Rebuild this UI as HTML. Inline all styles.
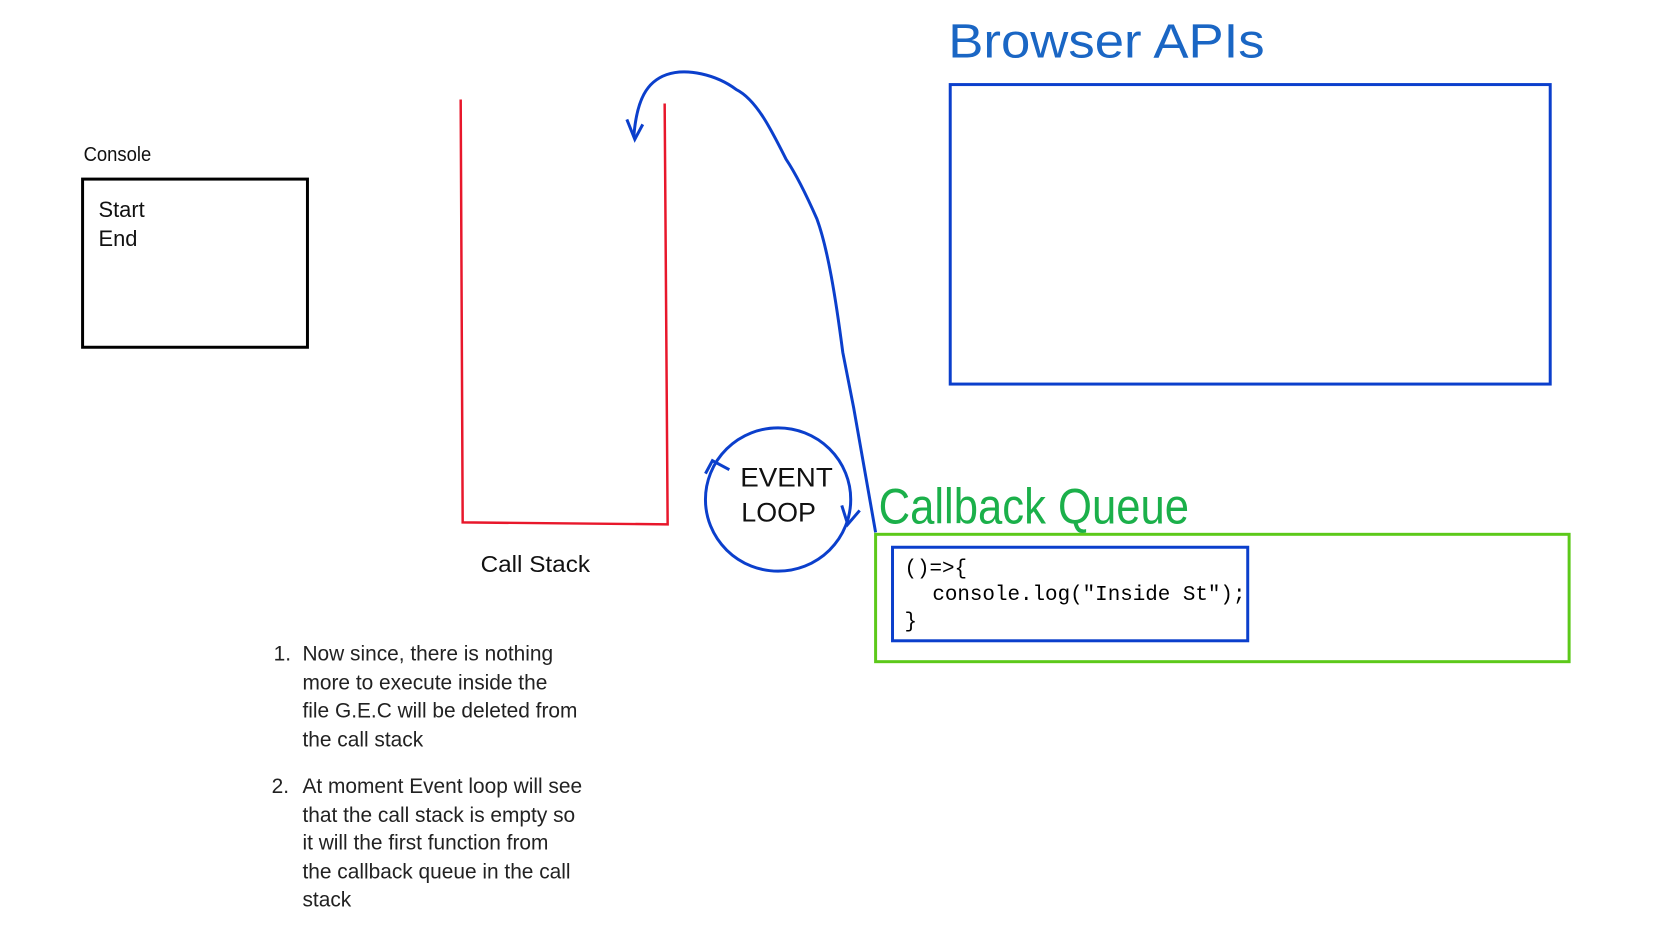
<!DOCTYPE html>
<html><head><meta charset="utf-8"><style>
html,body{margin:0;padding:0;background:#fff;}
svg{display:block;}
text{font-family:"Liberation Sans",sans-serif;}
</style></head><body>
<svg width="1674" height="930" viewBox="0 0 1674 930" xmlns="http://www.w3.org/2000/svg">
<rect width="1674" height="930" fill="#fff"/>
<g transform="scale(0.995)">
<!-- Browser APIs -->
<text x="953" y="58" font-size="48" fill="#1a66c4" textLength="318" lengthAdjust="spacingAndGlyphs">Browser APIs</text>
<rect x="955" y="85" width="603" height="301" fill="none" stroke="#0b3fcc" stroke-width="3"/>
<!-- Console -->
<text x="84" y="162" font-size="20" fill="#111" textLength="68" lengthAdjust="spacingAndGlyphs">Console</text>
<rect x="83" y="180" width="226" height="169" fill="none" stroke="#000" stroke-width="3"/>
<text x="99" y="218" font-size="22" fill="#111">Start</text>
<text x="99" y="247" font-size="22" fill="#111">End</text>
<!-- Call stack -->
<polyline points="463,100 465,525 671,527 668,104" fill="none" stroke="#e8172b" stroke-width="2.5"/>
<text x="483" y="575" font-size="23" fill="#111" textLength="110" lengthAdjust="spacingAndGlyphs">Call Stack</text>
<!-- Event loop -->
<ellipse cx="782" cy="502" rx="73" ry="72" fill="none" stroke="#0b3fcc" stroke-width="3"/>
<text x="744" y="489" font-size="27" fill="#111" textLength="93" lengthAdjust="spacingAndGlyphs">EVENT</text>
<text x="745" y="524" font-size="27" fill="#111" textLength="75" lengthAdjust="spacingAndGlyphs">LOOP</text>
<polyline points="709,476 716,463 733,472" fill="none" stroke="#0b3fcc" stroke-width="3"/>
<polyline points="846,508 852,527 864,513" fill="none" stroke="#0b3fcc" stroke-width="3"/>
<!-- curved arrow -->
<path d="M880,535 L858,410 L847,354 C840,300 832,250 821,220 C810,195 800,175 790,160 C775,130 760,100 740,90 C720,75 690,68 670,75 C650,82 640,100 637,137" fill="none" stroke="#0b3fcc" stroke-width="3"/>
<polyline points="630,120 638,140 646,125" fill="none" stroke="#0b3fcc" stroke-width="3"/>
<!-- Callback Queue -->
<text x="883" y="526" font-size="50" fill="#1bb04a" textLength="312" lengthAdjust="spacingAndGlyphs">Callback Queue</text>
<rect x="880" y="537" width="697" height="128" fill="none" stroke="#5cc91a" stroke-width="3"/>
<rect x="897" y="550" width="357" height="94" fill="none" stroke="#0b3fcc" stroke-width="3"/>
<g font-size="21" fill="#000">
<text x="909" y="577" style="font-family:'Liberation Mono',monospace">()=&gt;{</text>
<text x="937" y="603" style="font-family:'Liberation Mono',monospace">console.log("Inside St");</text>
<text x="909" y="630" style="font-family:'Liberation Mono',monospace">}</text>
</g>
<!-- notes -->
<g font-size="21" fill="#222">
<text x="275" y="664">1.</text>
<text x="304" y="664">Now since, there is nothing</text>
<text x="304" y="693">more to execute inside the</text>
<text x="304" y="721">file G.E.C will be deleted from</text>
<text x="304" y="750">the call stack</text>
<text x="273" y="797">2.</text>
<text x="304" y="797">At moment Event loop will see</text>
<text x="304" y="826">that the call stack is empty so</text>
<text x="304" y="854">it will the first function from</text>
<text x="304" y="883">the callback queue in the call</text>
<text x="304" y="911">stack</text>
</g>
</g>
</svg>
</body></html>
